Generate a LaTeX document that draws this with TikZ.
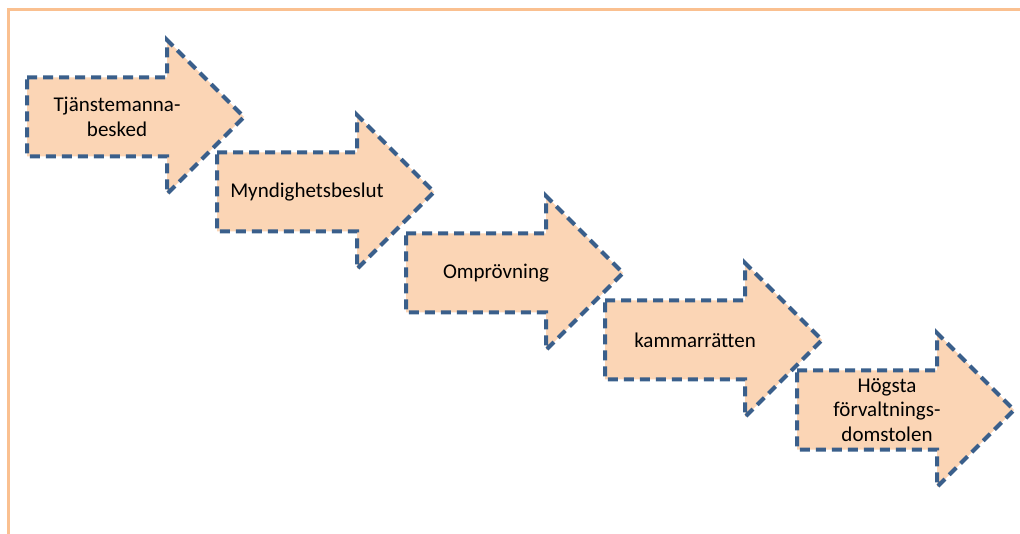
\documentclass[tikz,border=0pt]{standalone}
\usepackage{fontspec}
\setmainfont{Carlito}
\usepackage{xcolor}
\usetikzlibrary{positioning}

\definecolor{pilfyll}{HTML}{FBD5B5}
\definecolor{pilkant}{HTML}{3A5F8B}
\definecolor{ram}{HTML}{FAC090}

\begin{document}
\begin{tikzpicture}[x=1pt,y=-1pt,
    pil/.style={fill=pilfyll,draw=pilkant,line width=4pt,dash pattern=on 10pt off 6pt},
    etikett/.style={align=center,inner sep=0pt,font=\fontsize{21}{24.5}\selectfont}]
            \useasboundingbox (0,0) rectangle (1020,534);
            % ram
            \draw[ram,line width=3pt] (1020,10) -- (8,10) -- (8,534);
            % pilarna
            \foreach \x/\y/\n/\t in {27/77.5/tj/{Tjänstemanna-\\besked},
                                     217/152.5/myn/Myndighetsbeslut,
                                     406/233.5/omp/Omprövning,
                                     605/300.5/kam/kammarrätten,
                                     797/370.5/hfd/{Högsta\\förvaltnings-\\domstolen}} {
                \draw[pil] (\x,\y) -- ++(140,0) -- ++(0,-37.5) -- ++(77,77) -- ++(-77,77)
                    -- ++(0,-37.5) -- ++(-140,0) -- cycle;
                \node[etikett] (\n) at (\x+90,\y+39.5) {\t};
            }
        \end{tikzpicture}
\end{document}
